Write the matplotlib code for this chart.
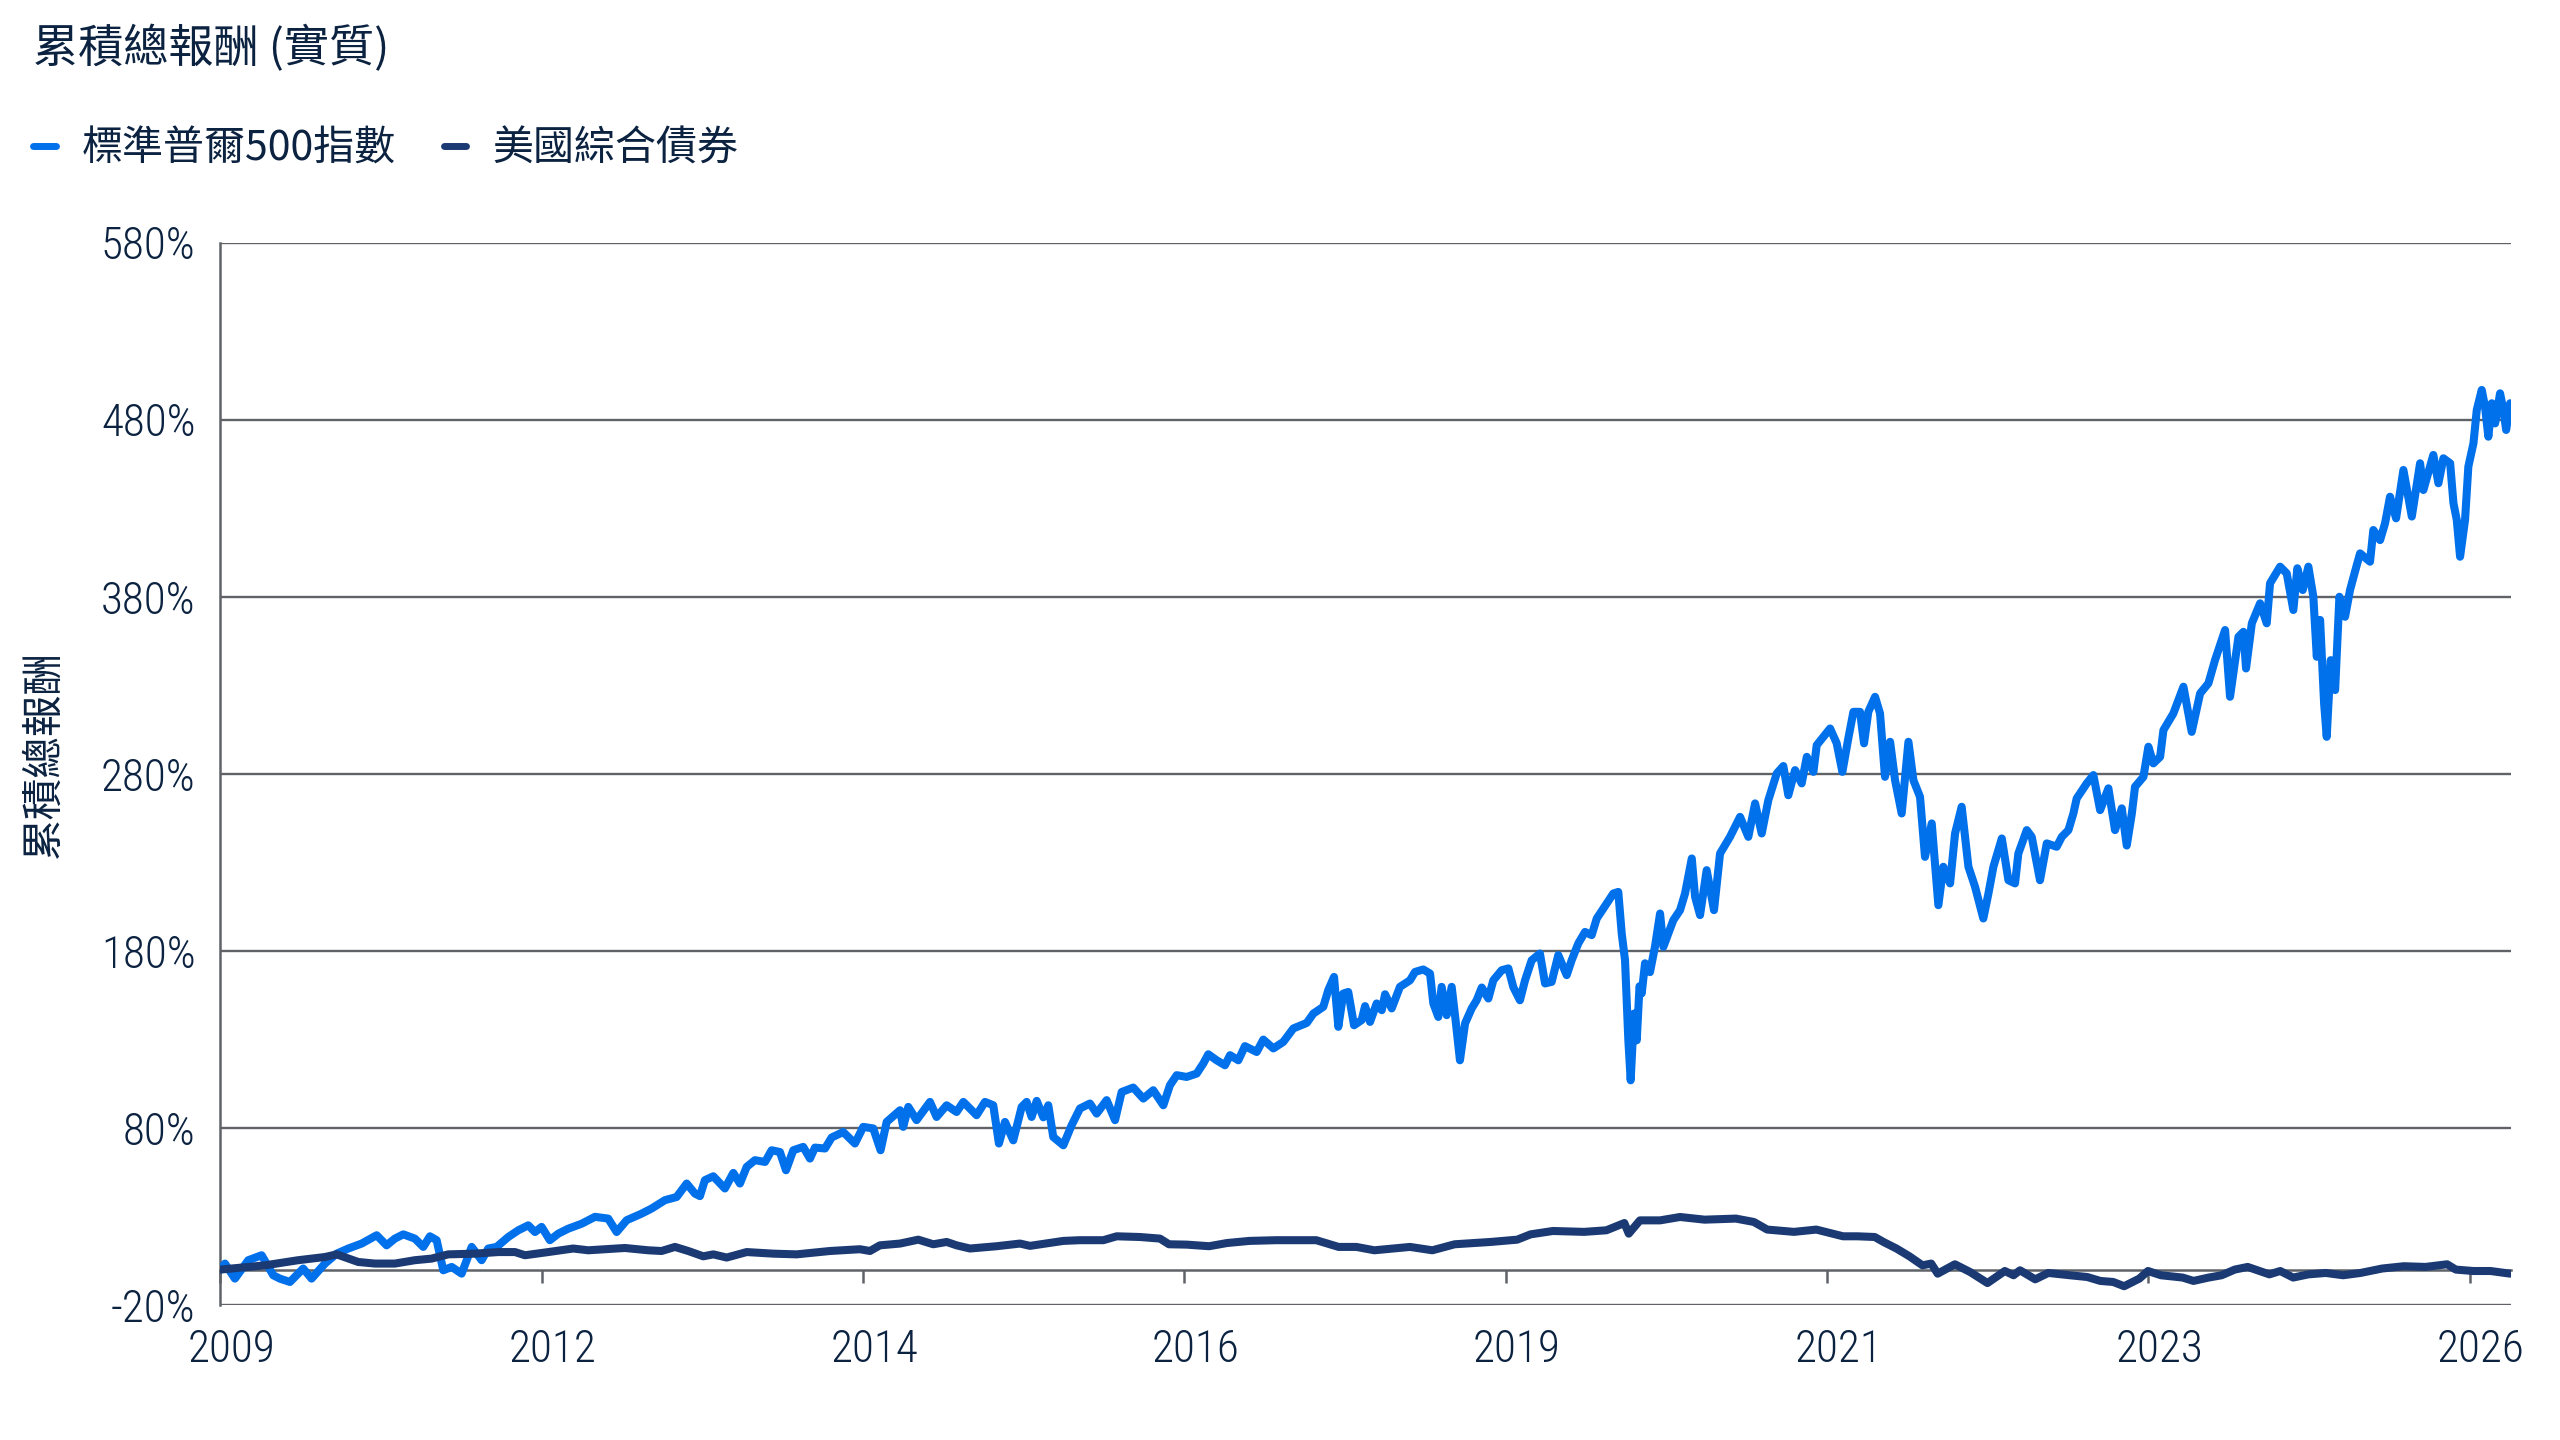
import matplotlib
matplotlib.use("Agg")
import matplotlib.pyplot as plt
import matplotlib.transforms as mtransforms
from matplotlib.lines import Line2D

plt.rcParams['font.family'] = ['Noto Sans CJK TC', 'DejaVu Sans']

# ---------------- data ----------------
title = "累積總報酬 (實質)"
y_label = "累積總報酬"
series_names = ["標準普爾500指數", "美國綜合債券"]

spx_years = [
    2010.000, 2010.033, 2010.105, 2010.202, 2010.299, 2010.383, 2010.431, 2010.504, 2010.600, 2010.661,
    2010.758, 2010.843, 2010.927, 2011.024, 2011.133, 2011.205, 2011.265, 2011.326, 2011.410, 2011.471,
    2011.519, 2011.568, 2011.616, 2011.677, 2011.749, 2011.822, 2011.894, 2011.942, 2012.003, 2012.087,
    2012.160, 2012.232, 2012.281, 2012.329, 2012.389, 2012.450, 2012.522, 2012.619, 2012.716, 2012.812,
    2012.873, 2012.946, 2013.054, 2013.127, 2013.223, 2013.308, 2013.381, 2013.441, 2013.477, 2013.513,
    2013.574, 2013.658, 2013.719, 2013.767, 2013.816, 2013.876, 2013.949, 2013.997, 2014.057, 2014.101,
    2014.154, 2014.226, 2014.275, 2014.311, 2014.384, 2014.432, 2014.516, 2014.601, 2014.661, 2014.734,
    2014.787, 2014.831, 2014.928, 2014.951, 2014.988, 2015.048, 2015.145, 2015.193, 2015.266, 2015.338,
    2015.387, 2015.483, 2015.544, 2015.604, 2015.645, 2015.689, 2015.749, 2015.810, 2015.846, 2015.882,
    2015.919, 2015.967, 2016.003, 2016.039, 2016.112, 2016.172, 2016.233, 2016.305, 2016.354, 2016.426,
    2016.487, 2016.535, 2016.619, 2016.692, 2016.764, 2016.837, 2016.885, 2016.934, 2017.006, 2017.079,
    2017.127, 2017.163, 2017.224, 2017.284, 2017.321, 2017.381, 2017.429, 2017.514, 2017.562, 2017.635,
    2017.707, 2017.780, 2017.877, 2017.925, 2017.997, 2018.033, 2018.075, 2018.106, 2018.142, 2018.178,
    2018.220, 2018.275, 2018.300, 2018.336, 2018.384, 2018.421, 2018.445, 2018.493, 2018.553, 2018.626,
    2018.662, 2018.722, 2018.771, 2018.795, 2018.831, 2018.855, 2018.892, 2018.928, 2018.959, 2018.988,
    2019.025, 2019.073, 2019.109, 2019.146, 2019.194, 2019.230, 2019.291, 2019.339, 2019.375, 2019.423,
    2019.460, 2019.508, 2019.568, 2019.605, 2019.653, 2019.701, 2019.762, 2019.798, 2019.846, 2019.895,
    2019.943, 2019.980, 2020.052, 2020.100, 2020.136, 2020.161, 2020.185, 2020.209, 2020.226, 2020.250,
    2020.270, 2020.290, 2020.306, 2020.330, 2020.366, 2020.402, 2020.439, 2020.463, 2020.499, 2020.535,
    2020.584, 2020.620, 2020.669, 2020.693, 2020.729, 2020.777, 2020.830, 2020.874, 2020.946, 2021.019,
    2021.079, 2021.128, 2021.176, 2021.224, 2021.285, 2021.333, 2021.369, 2021.418, 2021.466, 2021.503,
    2021.551, 2021.575, 2021.672, 2021.720, 2021.761, 2021.804, 2021.841, 2021.889, 2021.918, 2021.949,
    2021.998, 2022.034, 2022.070, 2022.107, 2022.143, 2022.191, 2022.240, 2022.276, 2022.324, 2022.360,
    2022.409, 2022.457, 2022.493, 2022.542, 2022.578, 2022.626, 2022.675, 2022.723, 2022.783, 2022.820,
    2022.856, 2022.917, 2022.965, 2023.013, 2023.037, 2023.098, 2023.134, 2023.194, 2023.243, 2023.315,
    2023.352, 2023.400, 2023.436, 2023.460, 2023.533, 2023.581, 2023.630, 2023.690, 2023.738, 2023.787,
    2023.823, 2023.860, 2023.883, 2023.944, 2023.980, 2024.016, 2024.065, 2024.089, 2024.161, 2024.234,
    2024.294, 2024.355, 2024.415, 2024.463, 2024.536, 2024.572, 2024.633, 2024.669, 2024.688, 2024.730,
    2024.790, 2024.838, 2024.862, 2024.935, 2024.983, 2025.031, 2025.060, 2025.099, 2025.140, 2025.176,
    2025.201, 2025.225, 2025.254, 2025.273, 2025.302, 2025.334, 2025.365, 2025.406, 2025.442, 2025.491,
    2025.515, 2025.587, 2025.611, 2025.660, 2025.696, 2025.732, 2025.776, 2025.829, 2025.890, 2025.950,
    2025.974, 2026.046, 2026.083, 2026.119, 2026.168, 2026.192, 2026.216, 2026.240, 2026.276, 2026.300,
    2026.337, 2026.361, 2026.397, 2026.421, 2026.445, 2026.470, 2026.494, 2026.530, 2026.554, 2026.574,
    2026.603,
]
spx_values = [
    0.0, 3.4, -5.1, 5.3, 8.1, -3.2, -5.1, -7.0, 0.6, -5.1,
    3.4, 9.0, 11.9, 14.7, 19.4, 13.7, 17.5, 19.9, 17.5, 12.8,
    18.8, 16.6, -0.4, 1.5, -2.3, 12.8, 5.3, 11.9, 12.8, 18.4,
    22.2, 25.0, 21.2, 24.1, 16.6, 20.3, 23.1, 25.9, 29.8, 28.8,
    21.2, 27.9, 31.6, 34.5, 39.2, 41.0, 48.6, 42.9, 41.5, 50.5,
    52.7, 45.8, 54.6, 48.6, 58.0, 61.8, 60.8, 67.4, 66.4, 56.1,
    67.4, 69.3, 62.7, 68.9, 68.4, 74.6, 77.7, 71.2, 80.6, 79.7,
    67.4, 83.4, 90.0, 80.6, 91.9, 84.4, 94.7, 86.2, 92.8, 89.0,
    94.7, 87.2, 94.7, 92.8, 71.2, 83.4, 73.0, 91.9, 94.7, 86.2,
    95.3, 86.0, 92.8, 74.9, 70.2, 81.5, 91.0, 93.8, 88.1, 95.7,
    84.4, 100.3, 102.8, 96.6, 101.3, 92.8, 104.1, 109.8, 108.8, 110.7,
    116.4, 121.6, 118.2, 115.4, 121.1, 118.2, 126.2, 122.9, 129.9, 124.9,
    128.6, 136.2, 139.3, 144.6, 148.4, 157.8, 165.3, 137.1, 155.9, 156.8,
    138.0, 140.9, 148.8, 139.9, 150.3, 146.5, 155.5, 147.5, 159.7, 163.4,
    168.1, 169.5, 167.2, 150.3, 142.7, 159.7, 143.7, 159.7, 139.0, 118.2,
    139.0, 147.5, 152.1, 159.3, 153.1, 163.4, 169.1, 170.1, 159.5, 152.1,
    163.4, 174.7, 178.5, 161.6, 162.5, 177.6, 166.3, 174.7, 184.2, 190.7,
    188.9, 198.3, 206.8, 212.4, 213.3, 189.8, 174.7, 129.5, 106.9, 144.6,
    129.5, 160.0, 156.0, 173.0, 168.0, 182.3, 201.1, 182.3, 189.8, 197.3,
    203.0, 212.4, 232.2, 210.5, 200.2, 225.6, 203.0, 235.0, 244.4, 255.7,
    244.4, 263.3, 246.3, 265.1, 280.2, 284.4, 267.9, 282.1, 274.6, 289.6,
    281.1, 296.2, 305.6, 297.2, 281.1, 300.0, 315.0, 315.0, 297.2, 315.0,
    323.5, 314.1, 278.3, 298.1, 276.4, 257.6, 298.1, 276.4, 267.0, 233.1,
    252.0, 205.8, 227.5, 218.1, 246.3, 261.4, 227.5, 216.2, 198.3, 212.4,
    227.5, 243.5, 219.9, 218.1, 235.0, 248.2, 244.4, 219.9, 240.7, 238.8,
    244.4, 248.2, 257.6, 266.1, 274.6, 279.3, 259.5, 271.8, 248.2, 260.5,
    239.5, 257.6, 272.7, 278.3, 295.3, 285.9, 289.6, 304.7, 314.1, 329.2,
    303.7, 325.4, 331.1, 344.2, 361.2, 323.5, 357.4, 360.2, 339.5, 365.0,
    376.3, 365.0, 387.6, 397.0, 393.2, 372.5, 396.1, 383.8, 397.0, 380.0,
    346.1, 366.9, 319.8, 300.9, 344.2, 327.3, 380.0, 368.7, 383.8, 397.9,
    404.5, 399.8, 417.7, 412.0, 421.5, 436.5, 424.3, 451.6, 425.3, 455.4,
    440.3, 460.1, 444.1, 458.2, 455.4, 432.8, 423.4, 402.6, 423.4, 453.5,
    466.7, 485.5, 496.8, 487.3, 470.4, 489.3, 477.9, 494.9, 485.5, 474.2,
    489.3,
]

agg_years = [
    2010.000, 2010.323, 2010.564, 2010.758, 2010.843, 2010.999, 2011.120, 2011.265, 2011.410, 2011.531,
    2011.652, 2011.846, 2012.015, 2012.136, 2012.208, 2012.377, 2012.558, 2012.667, 2012.933, 2013.102,
    2013.199, 2013.296, 2013.392, 2013.501, 2013.574, 2013.671, 2013.816, 2014.009, 2014.178, 2014.420,
    2014.637, 2014.710, 2014.782, 2014.928, 2015.060, 2015.169, 2015.266, 2015.338, 2015.435, 2015.629,
    2015.798, 2015.870, 2016.112, 2016.233, 2016.402, 2016.499, 2016.668, 2016.813, 2016.878, 2017.007,
    2017.169, 2017.299, 2017.461, 2017.655, 2017.946, 2018.108, 2018.237, 2018.367, 2018.626, 2018.788,
    2018.950, 2019.209, 2019.403, 2019.500, 2019.662, 2019.888, 2020.050, 2020.180, 2020.212, 2020.293,
    2020.439, 2020.584, 2020.762, 2020.989, 2021.119, 2021.216, 2021.410, 2021.572, 2021.766, 2021.870,
    2021.996, 2022.059, 2022.153, 2022.247, 2022.342, 2022.405, 2022.452, 2022.577, 2022.688, 2022.813,
    2022.939, 2023.002, 2023.049, 2023.159, 2023.254, 2023.411, 2023.537, 2023.631, 2023.725, 2023.804,
    2023.914, 2023.977, 2024.071, 2024.228, 2024.307, 2024.417, 2024.511, 2024.606, 2024.700, 2024.857,
    2024.936, 2025.030, 2025.140, 2025.266, 2025.392, 2025.518, 2025.675, 2025.832, 2025.989, 2026.146,
    2026.209, 2026.335, 2026.461, 2026.603,
]
agg_values = [
    0.0, 2.4, 5.3, 7.1, 8.6, 4.3, 3.4, 3.4, 5.3, 6.2,
    8.6, 9.0, 9.9, 9.9, 8.1, 9.9, 11.9, 10.9, 12.2, 10.9,
    10.5, 12.8, 10.5, 7.5, 8.6, 6.8, 9.9, 9.0, 8.6, 10.5,
    11.5, 10.5, 13.7, 14.7, 16.9, 14.3, 15.6, 13.7, 11.9, 13.2,
    14.7, 13.4, 16.2, 16.6, 16.6, 18.8, 18.4, 17.5, 14.3, 14.1,
    13.2, 15.0, 16.2, 16.6, 16.6, 12.8, 12.8, 10.9, 12.8, 10.9,
    14.3, 15.6, 16.9, 19.9, 21.8, 21.3, 22.2, 26.3, 20.3, 27.8,
    27.8, 29.7, 28.2, 28.8, 26.9, 22.6, 21.3, 22.6, 18.8, 18.8,
    18.4, 15.6, 11.9, 7.5, 2.4, 3.4, -2.3, 3.0, -1.4, -7.6,
    -0.8, -3.2, -0.4, -5.5, -1.9, -3.2, -4.2, -6.4, -7.0, -9.4,
    -5.1, -0.8, -3.2, -4.5, -6.4, -4.5, -3.2, 0.0, 1.5, -2.7,
    -0.8, -4.5, -2.7, -1.9, -3.2, -1.9, 0.6, 1.9, 1.5, 3.0,
    0.0, -0.8, -0.8, -2.3,
]

y_ticks = [-20, 80, 180, 280, 380, 480, 580]
x_tick_pos = [2010.00, 2012.33, 2014.66, 2016.99, 2019.32, 2021.65, 2023.98, 2026.31]
x_tick_labels = ["2009", "2012", "2014", "2016", "2019", "2021", "2023", "2026"]

# ---------------- style ----------------
C_SPX = "#0070EB"
C_AGG = "#1B3A73"
C_TEXT = "#0B2240"
C_GRID = "#5F6368"
TICK_FONT = ['Roboto Condensed', 'Roboto', 'Noto Sans CJK TC', 'DejaVu Sans']

fig = plt.figure(figsize=(25.6, 14.4), dpi=100)
ax = fig.add_axes([0.0861, 0.09375, 0.8948, 0.73775])

# spines first (moving a spine resets the tick objects)
for s in ["top", "right"]:
    ax.spines[s].set_visible(False)
ax.spines["bottom"].set_position(("data", 0))
ax.spines["bottom"].set_color(C_GRID)
ax.spines["bottom"].set_linewidth(1.8)
ax.spines["left"].set_color(C_GRID)
ax.spines["left"].set_linewidth(1.8)
ax.spines["bottom"].set_zorder(2)

ax.plot(spx_years, spx_values, color=C_SPX, lw=5.8, solid_joinstyle="round",
        solid_capstyle="round", zorder=3)
ax.plot(agg_years, agg_values, color=C_AGG, lw=5.8, solid_joinstyle="round",
        solid_capstyle="round", zorder=4)

ax.set_xlim(2010.0, 2026.61)
ax.set_ylim(-20, 580)

ax.set_yticks(y_ticks)
ax.set_yticklabels([f"{v}%" for v in y_ticks])
ax.yaxis.grid(True, color=C_GRID, lw=1.7)
ax.set_axisbelow(True)
ax.tick_params(axis="y", length=0, pad=18, labelsize=32.5, labelcolor=C_TEXT)

ax.set_xticks(x_tick_pos)
ax.set_xticklabels(x_tick_labels)
ax.tick_params(axis="x", direction="out", length=9.5, width=1.8, color=C_GRID,
               pad=33, labelsize=32.5, labelcolor=C_TEXT)
for lbl in ax.get_xticklabels() + ax.get_yticklabels():
    lbl.set_family(TICK_FONT)
    lbl.set_fontweight("light")

# the year labels sit slightly right of their tick marks in the reference
shift = mtransforms.ScaledTranslation(11 / 100, 0, fig.dpi_scale_trans)
for lbl in ax.get_xticklabels():
    lbl.set_transform(lbl.get_transform() + shift)

fig.text(33 / 2560, 1 - 49 / 1440, title, fontsize=32.5, color=C_TEXT,
         ha="left", va="center")
fig.text(44 / 2560, 1 - 754 / 1440, y_label, fontsize=30, color=C_TEXT,
         rotation=90, ha="center", va="center")

handles = [Line2D([], [], color=C_SPX, lw=5, solid_capstyle="round"),
           Line2D([], [], color=C_AGG, lw=5, solid_capstyle="round")]
fig.legend(handles, series_names, loc="center left",
           bbox_to_anchor=(33 / 2560, 1 - 149 / 1440), ncol=2, frameon=False,
           fontsize=29.5, handlelength=0.55, handletextpad=0.65,
           columnspacing=1.15, borderpad=0, borderaxespad=0,
           labelcolor=C_TEXT)

fig.savefig("out.png", dpi=100, facecolor="white")
